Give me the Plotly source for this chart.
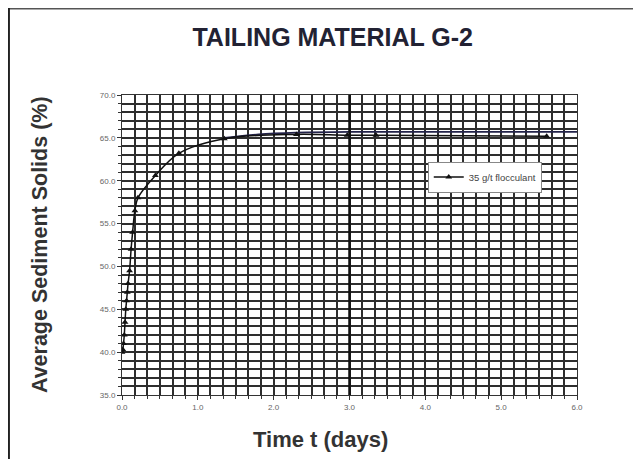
import plotly.graph_objects as go

# Measured data (time in days, average sediment solids %)
time_days = [0.0, 0.01, 0.02, 0.03, 0.04, 0.05, 0.06, 0.07, 0.08, 0.10,
             0.12, 0.14, 0.17, 0.21, 0.44, 0.75, 1.35, 2.30, 2.97, 3.35, 5.60]
solids_pct = [40.0, 40.3, 41.0, 42.0, 43.5, 45.0, 46.0, 47.0, 48.0, 49.5,
              52.0, 54.0, 56.5, 58.0, 60.6, 63.2, 64.9, 65.4, 65.3, 65.3, 65.2]

# Trend tail (dark line across the top)
fit_days = [1.35, 1.80, 2.30, 3.00, 4.00, 5.00, 6.00]
fit_pct = [65.0, 65.4, 65.6, 65.7, 65.7, 65.7, 65.7]

series_name = "35 g/t flocculant"
title_text = "TAILING MATERIAL G-2"
x_title = "Time t (days)"
y_title = "Average Sediment Solids (%)"

fig = go.Figure()
fig.add_trace(go.Scatter(
    x=fit_days, y=fit_pct, mode="lines",
    line=dict(color="#23234a", width=1.8, shape="spline"),
    showlegend=False, hoverinfo="skip"))
fig.add_trace(go.Scatter(
    x=time_days, y=solids_pct, mode="lines+markers", name=series_name,
    line=dict(color="#111111", width=1.5, shape="spline"),
    marker=dict(symbol="triangle-up", size=6, color="#111111")))

fig.add_shape(type="line", xref="x", yref="paper", x0=3.0, x1=3.0, y0=0, y1=1,
              line=dict(color="#111111", width=2.5))

grid_color = "#2e2e2e"
gw = 1.8
fig.update_layout(
    width=633, height=451,
    margin=dict(l=114, r=64, t=87, b=64),
    paper_bgcolor="white", plot_bgcolor="white",
    title=dict(text="<b>" + title_text + "</b>", x=0.513, xanchor="center",
               y=0.936, yanchor="middle",
               font=dict(family="Liberation Sans, Arial", size=25, color="#222233")),
    font=dict(family="Liberation Sans, Arial"),
    legend=dict(x=0.672, y=0.778, xanchor="left", yanchor="top",
                bgcolor="white", bordercolor="#888888", borderwidth=1,
                font=dict(size=9.5, color="#444444"), itemwidth=30),
    xaxis=dict(range=[0, 6], dtick=1, tick0=0, tickformat=".1f",
               showgrid=True, gridcolor=grid_color, gridwidth=gw,
               minor=dict(dtick=1/6, showgrid=True, gridcolor=grid_color, gridwidth=gw,
                          ticks="outside", ticklen=3, tickcolor="#333"),
               ticks="outside", ticklen=4, tickcolor="#333",
               showline=True, linecolor="#333", linewidth=1, mirror=True,
               zeroline=False,
               tickfont=dict(size=8, color="#666666")),
    yaxis=dict(range=[35, 70], dtick=5, tick0=35, tickformat=".1f",
               showgrid=True, gridcolor=grid_color, gridwidth=gw,
               minor=dict(dtick=1, showgrid=True, gridcolor=grid_color, gridwidth=gw,
                          ticks="outside", ticklen=3, tickcolor="#333"),
               ticks="outside", ticklen=4, tickcolor="#333",
               showline=True, linecolor="#333", linewidth=1, mirror=True,
               zeroline=False,
               tickfont=dict(size=8, color="#666666")),
)

# axis titles
fig.add_annotation(text="<b>" + x_title + "</b>", xref="paper", yref="paper",
                   x=0.437, y=-0.147, xanchor="center", yanchor="middle", showarrow=False,
                   font=dict(size=22, color="#333333"))
fig.add_annotation(text="<b>" + y_title + "</b>", xref="paper", yref="paper",
                   x=-0.18, y=0.5, xanchor="center", yanchor="middle", showarrow=False,
                   textangle=-90, font=dict(size=21.5, color="#333333"))

# outer frame (top and left edges visible in the reference)
fig.add_shape(type="line", xref="paper", yref="paper", x0=-0.2505, x1=1.2, y0=1.288, y1=1.288,
              line=dict(color="#555555", width=2))
fig.add_shape(type="line", xref="paper", yref="paper", x0=-0.2485, x1=-0.2485, y0=-0.3, y1=1.29,
              line=dict(color="#222222", width=2))

fig.write_html("out.html")
